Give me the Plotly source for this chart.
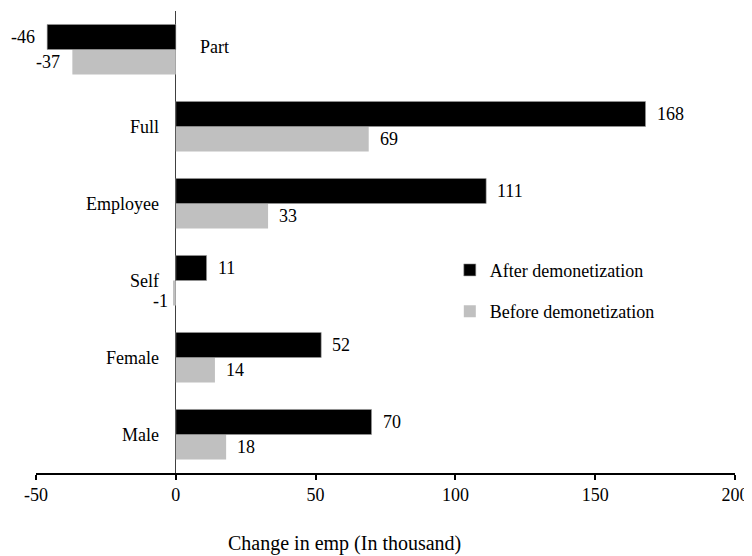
import plotly.graph_objects as go

categories = ["Male", "Female", "Self", "Employee", "Full", "Part"]
after_vals = [70, 52, 11, 111, 168, -46]
before_vals = [18, 14, -1, 33, 69, -37]
x_ticks = [-50, 0, 50, 100, 150, 200]

FONT = "Liberation Serif"

fig = go.Figure()
fig.add_trace(go.Bar(
    y=categories, x=before_vals, orientation="h",
    name="Before demonetization", legendrank=2, legendgroup="b",
    marker=dict(color="#c0c0c0", line=dict(color="#c0c0c0", width=0)),
))
fig.add_trace(go.Bar(
    y=categories, x=after_vals, orientation="h",
    name="After demonetization", legendrank=1, legendgroup="a",
    marker=dict(color="#000000", line=dict(color="#9a9a9a", width=0.6)),
))

annotations = []
for cat, v in zip(categories, after_vals):
    annotations.append(dict(
        x=v, y=cat, xref="x", yref="y", text=str(v), showarrow=False,
        xanchor="left" if v >= 0 else "right", xshift=9 if v >= 0 else -10,
        yshift=12.5, font=dict(family=FONT, size=18, color="black")))
for cat, v in zip(categories, before_vals):
    tiny = abs(v) < 5
    annotations.append(dict(
        x=v, y=cat, xref="x", yref="y", text=str(v), showarrow=False,
        xanchor="left" if v >= 0 else "right",
        xshift=(9 if v >= 0 else (-3 if tiny else -10)),
        yshift=-20 if tiny else -12.5,
        font=dict(family=FONT, size=18, color="black")))
for cat, v in zip(categories, after_vals):
    neg = v < 0
    annotations.append(dict(
        x=0, y=cat, xref="x", yref="y", text=cat, showarrow=False,
        xanchor="left" if neg else "right", xshift=22 if neg else -15,
        yshift=3 if neg else 0,
        font=dict(family=FONT, size=18, color="black")))
annotations.append(dict(
    x=0.442, y=-0.152, xref="paper", yref="paper", text="Change in emp (In thousand)",
    showarrow=False, xanchor="center", yanchor="middle",
    font=dict(family=FONT, size=20, color="black")))

fig.update_layout(
    width=744, height=548,
    margin=dict(l=28, r=17, t=3, b=83),
    paper_bgcolor="white", plot_bgcolor="white",
    barmode="group", bargap=0.35, bargroupgap=0,
    font=dict(family=FONT, size=18, color="black"),
    showlegend=True,
    legend=dict(x=0.592, y=0.479, xanchor="left", yanchor="top",
                traceorder="grouped", tracegroupgap=15,
                font=dict(family=FONT, size=18, color="black"),
                bgcolor="rgba(0,0,0,0)"),
    annotations=annotations,
    xaxis=dict(range=[-50, 200], tickvals=x_ticks, ticktext=[str(t) for t in x_ticks],
               showgrid=False, showline=True, linecolor="black", linewidth=1.5,
               ticks="outside", ticklen=5, tickcolor="black", tickwidth=1.5,
               zeroline=True, zerolinecolor="#404040", zerolinewidth=1,
               tickfont=dict(family=FONT, size=18, color="black")),
    xaxis2=dict(overlaying="x", side="bottom", range=[-50, 200], tickvals=x_ticks,
                showticklabels=False, ticks="inside", ticklen=4, tickcolor="black",
                tickwidth=1.5, showgrid=False, showline=False, zeroline=False),
    yaxis=dict(categoryorder="array", categoryarray=categories,
               showticklabels=False, showgrid=False, showline=False,
               ticks="", zeroline=False),
)

fig.write_html(
    "out.html",
    post_script="document.documentElement.style.overflow='hidden';document.body.style.overflow='hidden';",
)
